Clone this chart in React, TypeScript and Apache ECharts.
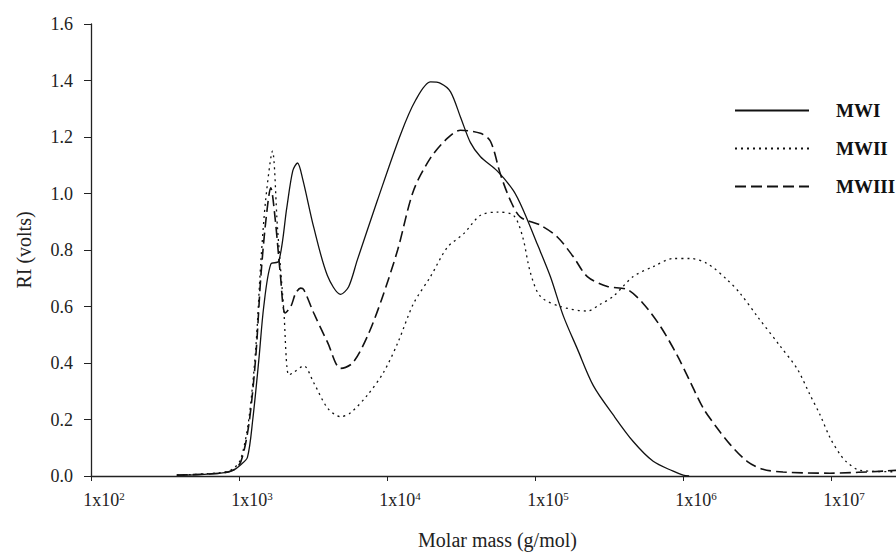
import React, { useEffect, useRef } from "react";
import * as echarts from "echarts";

// Molar mass (g/mol) and RI (volts)
const mwiMass = [380, 552, 753, 908, 1028, 1140, 1239, 1361, 1470, 1640, 1857, 2104, 2308, 2484, 2697, 3200, 3956, 4864, 5508, 6306, 8605, 12367, 15600, 19690, 23000, 26880, 31400, 36650, 42830, 55500, 71500, 83500, 103800, 127000, 155600, 193300, 247800, 338000, 461000, 629000, 859000, 1003000, 1100000];
const mwiValue = [0.003, 0.005, 0.01, 0.02, 0.04, 0.066, 0.2, 0.41, 0.6, 0.75, 0.76, 0.95, 1.08, 1.108, 1.05, 0.88, 0.71, 0.643, 0.67, 0.765, 0.975, 1.21, 1.33, 1.395, 1.39, 1.36, 1.27, 1.18, 1.13, 1.08, 1.01, 0.94, 0.82, 0.706, 0.566, 0.45, 0.32, 0.216, 0.122, 0.052, 0.017, 0.003, 0.0];

const mwiiMass = [380, 753, 908, 1028, 1164, 1297, 1402, 1516, 1683, 1819, 2006, 2167, 2343, 2738, 3200, 3975, 4864, 5680, 7393, 9480, 11800, 15100, 19690, 25640, 32880, 42830, 55740, 71500, 82200, 93100, 108700, 148300, 225700, 276300, 338000, 461000, 629000, 859000, 1120000, 1457000, 1988000, 2430000, 3170000, 4530000, 5900000, 7220000, 8430000, 9840000, 11500000, 12800000, 15700000, 27500000];
const mwiiValue = [0.003, 0.012, 0.025, 0.06, 0.2, 0.45, 0.75, 0.98, 1.15, 0.88, 0.59, 0.357, 0.367, 0.39, 0.33, 0.24, 0.21, 0.224, 0.287, 0.367, 0.47, 0.61, 0.706, 0.81, 0.857, 0.923, 0.934, 0.923, 0.85, 0.72, 0.636, 0.6, 0.584, 0.608, 0.636, 0.706, 0.741, 0.77, 0.77, 0.752, 0.695, 0.647, 0.566, 0.46, 0.38, 0.287, 0.217, 0.136, 0.077, 0.049, 0.02, 0.015];

const mwiiiMass = [380, 753, 908, 1028, 1164, 1297, 1402, 1516, 1640, 1760, 1900, 2050, 2240, 2415, 2611, 2738, 3200, 3975, 4864, 5862, 7393, 9200, 11800, 15100, 19690, 25640, 31400, 42830, 50000, 58500, 68300, 79800, 108700, 141600, 181600, 225700, 308600, 420600, 539700, 703000, 914000, 1120000, 1370000, 1700000, 2080000, 2710000, 3470000, 4740000, 9840000, 27500000];
const mwiiiValue = [0.003, 0.01, 0.02, 0.05, 0.18, 0.42, 0.7, 0.9, 1.02, 0.905, 0.717, 0.577, 0.6, 0.647, 0.665, 0.66, 0.577, 0.472, 0.381, 0.4, 0.496, 0.625, 0.8, 1.01, 1.126, 1.196, 1.224, 1.213, 1.185, 1.067, 0.975, 0.916, 0.888, 0.846, 0.776, 0.706, 0.671, 0.66, 0.61, 0.53, 0.427, 0.333, 0.24, 0.17, 0.112, 0.052, 0.024, 0.014, 0.01, 0.02];

const seriesNames = ["MWI", "MWII", "MWIII"];
const yTicks = [0, 0.2, 0.4, 0.6, 0.8, 1.0, 1.2, 1.4, 1.6];

const pair = (m: number[], v: number[]) => m.map((x, i) => [x, v[i]]);

const FONT = "'Liberation Serif', 'Times New Roman', serif";

export default function App() {
  const ref = useRef<HTMLDivElement>(null);
  useEffect(() => {
    if (!ref.current) return;
    const chart = echarts.init(ref.current, null, { renderer: "svg" });
    const lineColor = "#111";
    chart.setOption({
      animation: false,
      backgroundColor: "#fff",
      grid: { left: 91, right: 0, top: 24, bottom: 74, containLabel: false },
      legend: {
        orient: "vertical",
        left: 729,
        top: 96,
        itemWidth: 74,
        itemHeight: 14,
        itemGap: 19,
        data: seriesNames,
        itemStyle: { color: "transparent", borderColor: "transparent", borderWidth: 0, opacity: 0 },
        textStyle: {
          fontFamily: FONT,
          fontWeight: "bold",
          fontSize: 19,
          color: "#111",
          padding: [0, 0, 0, 22],
        },
      },
      xAxis: {
        type: "log",
        logBase: 10,
        min: 100,
        max: 27500000,
        name: "Molar mass (g/mol)",
        nameLocation: "middle",
        nameGap: 54,
        nameTextStyle: { fontFamily: FONT, fontSize: 20, color: "#222", padding: [0, 0, 0, 8] },
        axisLine: { show: true, onZero: false, lineStyle: { color: "#222", width: 1.3 } },
        axisTick: { show: true, inside: false, length: 5, lineStyle: { color: "#222" } },
        minorTick: { show: false },
        splitLine: { show: false },
        axisLabel: {
          margin: 14,
          showMaxLabel: false,
          formatter: (v: number) => {
            const l = Math.log10(v);
            const e = Math.round(l);
            if (Math.abs(l - e) > 0.01) return "";
            return `{a|1x10}{b|${e}}`;
          },
          rich: {
            a: { fontFamily: FONT, fontSize: 18, color: "#222", lineHeight: 20, padding: [0, 0, 0, 26] },
            b: { fontFamily: FONT, fontSize: 11, color: "#222", lineHeight: 11, verticalAlign: "top" },
          },
        },
      },
      yAxis: {
        type: "value",
        min: yTicks[0],
        max: yTicks[yTicks.length - 1],
        interval: 0.2,
        name: "RI (volts)",
        nameLocation: "middle",
        nameGap: 57,
        nameTextStyle: { fontFamily: FONT, fontSize: 20, color: "#222" },
        axisLine: { show: true, lineStyle: { color: "#222", width: 1.3 } },
        axisTick: { show: true, inside: false, length: 7, lineStyle: { color: "#222" } },
        splitLine: { show: false },
        axisLabel: {
          margin: 18,
          fontFamily: FONT,
          fontSize: 18,
          color: "#222",
          formatter: (v: number) => v.toFixed(1),
        },
      },
      series: [
        {
          name: seriesNames[0],
          type: "line",
          symbol: "none",
          smooth: 0.3,
          data: pair(mwiMass, mwiValue),
          lineStyle: { color: lineColor, width: 1.3, type: "solid" },
          itemStyle: { color: lineColor },
        },
        {
          name: seriesNames[1],
          type: "line",
          symbol: "none",
          smooth: 0.3,
          data: pair(mwiiMass, mwiiValue),
          lineStyle: { color: lineColor, width: 1.3, type: [2, 4] },
          itemStyle: { color: lineColor },
        },
        {
          name: seriesNames[2],
          type: "line",
          symbol: "none",
          smooth: 0.3,
          data: pair(mwiiiMass, mwiiiValue),
          lineStyle: { color: lineColor, width: 1.6, type: [11, 5] },
          itemStyle: { color: lineColor },
        },
      ],
    });
    return () => chart.dispose();
  }, []);
  return (
    <div
      ref={ref}
      style={{ position: "fixed", left: 0, top: 0, width: 896, height: 555, background: "#fff" }}
    />
  );
}
